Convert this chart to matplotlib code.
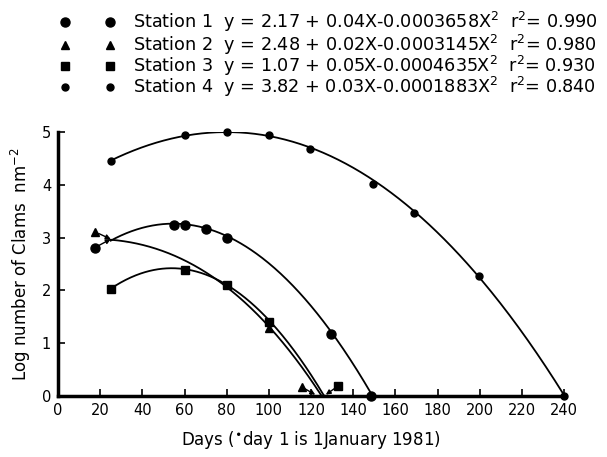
import numpy as np
import matplotlib
matplotlib.use("Agg")
import matplotlib.pyplot as plt
from matplotlib.lines import Line2D

plt.rcParams['font.family'] = ['DejaVu Sans']
plt.rcParams['mathtext.fontset'] = 'dejavusans'

#---- Data ----
stations = ["Station 1", "Station 2", "Station 3", "Station 4"]
markers = ["o", "^", "s", "o"]
marker_sizes = [6.5, 6, 5.5, 5]

# fitted quadratic y = a + b*X - c*X^2 (as printed in the key)
coef_a = [2.17, 2.48, 1.07, 3.82]
coef_b = [0.04, 0.02, 0.05, 0.03]
coef_c = [0.0003658, 0.0003145, 0.0004635, 0.0001883]
r2 = ["0.990", "0.980", "0.930", "0.840"]
fit_start = [25, 25, 25, 25]
fit_end = [148, 125, 126.5, 240]

# lines as actually drawn for stations 2 and 4 (they drift off the printed equations at the ends)
curve2_x = [25, 40, 60, 80, 100, 125]
curve2_y = [2.97, 2.83, 2.60, 2.05, 1.31, 0.0]
curve4_x = [25, 60, 80, 100, 120, 150, 170, 200, 240]
curve4_y = [4.45, 4.94, 5.01, 4.94, 4.68, 4.04, 3.47, 2.27, 0.0]

# observed points
s1_days = [17.5, 55, 60, 70, 80, 129.5, 148.5]
s1_vals = [2.81, 3.24, 3.23, 3.16, 2.99, 1.17, 0.0]
s2_days = [17.5, 100, 115.5]
s2_vals = [3.11, 1.29, 0.17]
s3_days = [25, 60, 80, 100, 133]
s3_vals = [2.03, 2.39, 2.10, 1.40, 0.19]
s4_days = [25, 60, 80, 100, 119.5, 149.5, 169, 199.5, 240]
s4_vals = [4.45, 4.94, 5.00, 4.94, 4.67, 4.02, 3.47, 2.27, 0.0]

days_all = [s1_days, s2_days, s3_days, s4_days]
vals_all = [s1_vals, s2_vals, s3_vals, s4_vals]

x_ticks = np.arange(0, 241, 20)
y_ticks = [0, 1, 2, 3, 4, 5]

#---- Figure ----
fig = plt.figure(figsize=(6.07, 4.57), dpi=100)
ax = fig.add_axes([0.0956, 0.134, 0.8336, 0.577])

for i in range(4):
    xs = np.linspace(fit_start[i], fit_end[i], 300)
    if i == 1:
        ys = np.polyval(np.polyfit(curve2_x, curve2_y, 3), xs)
    elif i == 3:
        ys = np.polyval(np.polyfit(curve4_x, curve4_y, 3), xs)
    else:
        ys = coef_a[i] + coef_b[i] * xs - coef_c[i] * xs ** 2
    ys = np.clip(ys, 0, None)
    ax.plot(xs, ys, color='black', lw=1.3)
    ax.plot(days_all[i], vals_all[i], linestyle='none', marker=markers[i],
            ms=marker_sizes[i], color='black', clip_on=False, zorder=5)

# small pointer arrows from off-curve points
arrows = [((17.5, 2.81), (25, 2.97)), ((17.5, 3.11), (25, 2.97)),
          ((115.5, 0.17), (122, 0.02)), ((133, 0.19), (127, 0.02))]
for start, end in arrows:
    ax.annotate("", xy=end, xytext=start,
                arrowprops=dict(arrowstyle="-|>", color='black', lw=1.0,
                                mutation_scale=7, shrinkA=3, shrinkB=0))

ax.set_xlim(0, 240)
ax.set_ylim(0, 5)
ax.set_xticks(x_ticks)
ax.set_yticks(y_ticks)
ax.spines['top'].set_visible(False)
ax.spines['right'].set_visible(False)
ax.spines['left'].set_linewidth(2.5)
ax.spines['bottom'].set_linewidth(2.5)
ax.tick_params(direction='in', length=5, width=1.2, labelsize=10.5, pad=5)

ax.set_ylabel("Log number of Clams  nm$^{-2}$", fontsize=12, labelpad=6)
ax.set_xlabel("Days ($^{\\bullet}$day 1 is 1January 1981)", fontsize=12, labelpad=8)

#---- Key at top ----
key_y = [0.952, 0.902, 0.856, 0.810]
for i in range(4):
    for kx in [0.107, 0.181]:
        fig.add_artist(Line2D([kx], [key_y[i]], marker=markers[i], ms=marker_sizes[i],
                              color='black', linestyle='none', transform=fig.transFigure))
    txt = (stations[i] + "  y = %.2f + %.2fX-%.7fX$^2$  r$^2$= %s"
           % (coef_a[i], coef_b[i], coef_c[i], r2[i]))
    fig.text(0.219, key_y[i], txt, fontsize=12.7, va='center', ha='left')

fig.savefig("out.png", dpi=100)
